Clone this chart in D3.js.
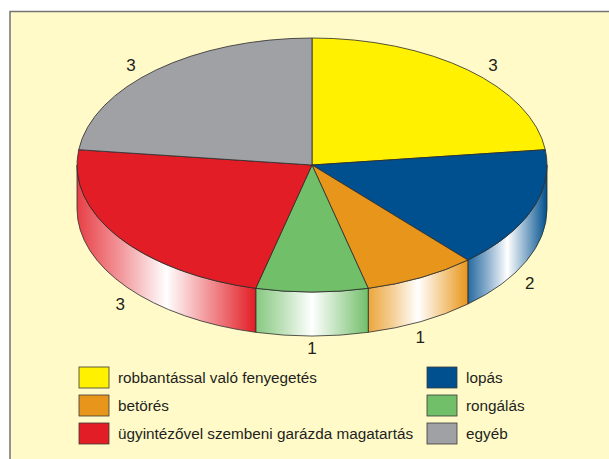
<!DOCTYPE html>
<meta charset="utf-8">
<style>
    body { margin: 0; background: #fff; }
    text { font-family: "Liberation Sans", Arial, sans-serif; fill: #231f20; }
    .slice { stroke: #2b2b2b; stroke-width: 0.8px; stroke-linejoin: round; }
    .value { font-size: 17px; text-anchor: middle; }
    .legend text { font-size: 15.3px; }
</style>
<body>
<script src="https://d3js.org/d3.v7.min.js"></script>
<script>
    // data
    var categories = ["robbantással való fenyegetés", "lopás", "betörés", "rongálás",
        "ügyintézővel szembeni garázda magatartás", "egyéb"];
    var values = [3, 2, 1, 1, 3, 3];
    var colors = ["#fff100", "#00508f", "#e8961b", "#72bf6a", "#e31d25", "#a0a1a5"];

    var width = 609, height = 459;
    var cx = 312, cy = 165, rx = 235, ry = 127, depth = 44;

    var svg = d3.select("body").append("svg")
        .attr("width", width).attr("height", height);

    svg.append("rect")
        .attr("x", 10).attr("y", 11.5)
        .attr("width", width + 20).attr("height", height + 20)
        .attr("fill", "#fffac8")
        .attr("stroke", "#737373")
        .attr("stroke-width", 1.5);

    var color = d3.scaleOrdinal().domain(categories).range(colors);

    var pie = d3.pie().sort(null).value(function(d, i) { return values[i]; });
    var arcs = pie(categories);

    function pt(a, dy) {
        return [cx + rx * Math.sin(a), cy - ry * Math.cos(a) + (dy || 0)];
    }

    var defs = svg.append("defs");
    var g = svg.append("g");

    // sides (only the front half shows)
    arcs.forEach(function(d, i) {
        var lo = Math.max(d.startAngle, Math.PI / 2),
            hi = Math.min(d.endAngle, Math.PI * 3 / 2);
        if (lo >= hi) return;
        var c = color(d.data);
        var mix = d3.interpolateRgb(c, "#fff");
        var p0 = pt(lo), p1 = pt(hi), p2 = pt(hi, depth), p3 = pt(lo, depth);
        var grad = defs.append("linearGradient")
            .attr("id", "side" + i)
            .attr("gradientUnits", "userSpaceOnUse")
            .attr("x1", p1[0]).attr("x2", p0[0]).attr("y1", 0).attr("y2", 0);
        var stops = [[0, mix(0.15)], [0.25, mix(0.55)], [0.5, "#fff"], [0.75, mix(0.5)], [1, c]];
        stops.forEach(function(s) {
            grad.append("stop").attr("offset", s[0]).attr("stop-color", s[1]);
        });
        g.append("path")
            .attr("class", "slice")
            .attr("fill", "url(#side" + i + ")")
            .attr("d", "M" + p0 + "A" + rx + "," + ry + " 0 0 1 " + p1 +
                "L" + p2 + "A" + rx + "," + ry + " 0 0 0 " + p3 + "Z");
    });

    // tops
    g.selectAll("path.top")
        .data(arcs)
        .enter().append("path")
        .attr("class", "slice top")
        .attr("fill", function(d) { return color(d.data); })
        .attr("d", function(d) {
            var large = d.endAngle - d.startAngle > Math.PI ? 1 : 0;
            return "M" + cx + "," + cy + "L" + pt(d.startAngle) +
                "A" + rx + "," + ry + " 0 " + large + " 1 " + pt(d.endAngle) + "Z";
        });

    // value labels
    g.selectAll("text.value")
        .data(arcs)
        .enter().append("text")
        .attr("class", "value")
        .attr("dy", "0.36em")
        .attr("x", function(d) {
            var a = (d.startAngle + d.endAngle) / 2;
            var back = Math.cos(a) > 0;
            return cx + (back ? 273 : 233) * Math.sin(a);
        })
        .attr("y", function(d) {
            var a = (d.startAngle + d.endAngle) / 2;
            var back = Math.cos(a) > 0;
            return back ? cy - 134 * Math.cos(a) : 247 - 101 * Math.cos(a);
        })
        .text(function(d) { return d.value; });

    // legend
    var col = d3.scaleOrdinal().domain([0, 1]).range([79, 427]);
    var row = d3.scalePoint().domain([0, 1, 2]).range([367, 423]);

    var legend = svg.append("g").attr("class", "legend")
        .selectAll("g")
        .data(categories)
        .enter().append("g")
        .attr("transform", function(d, i) {
            return "translate(" + col(i % 2) + "," + row(Math.floor(i / 2)) + ")";
        });

    legend.append("rect")
        .attr("width", 30).attr("height", 21)
        .attr("fill", function(d) { return color(d); })
        .attr("stroke", "#3a3a3a")
        .attr("stroke-width", 0.8);

    legend.append("text")
        .attr("x", 39).attr("y", 16)
        .text(function(d) { return d; });
</script>
</body>
